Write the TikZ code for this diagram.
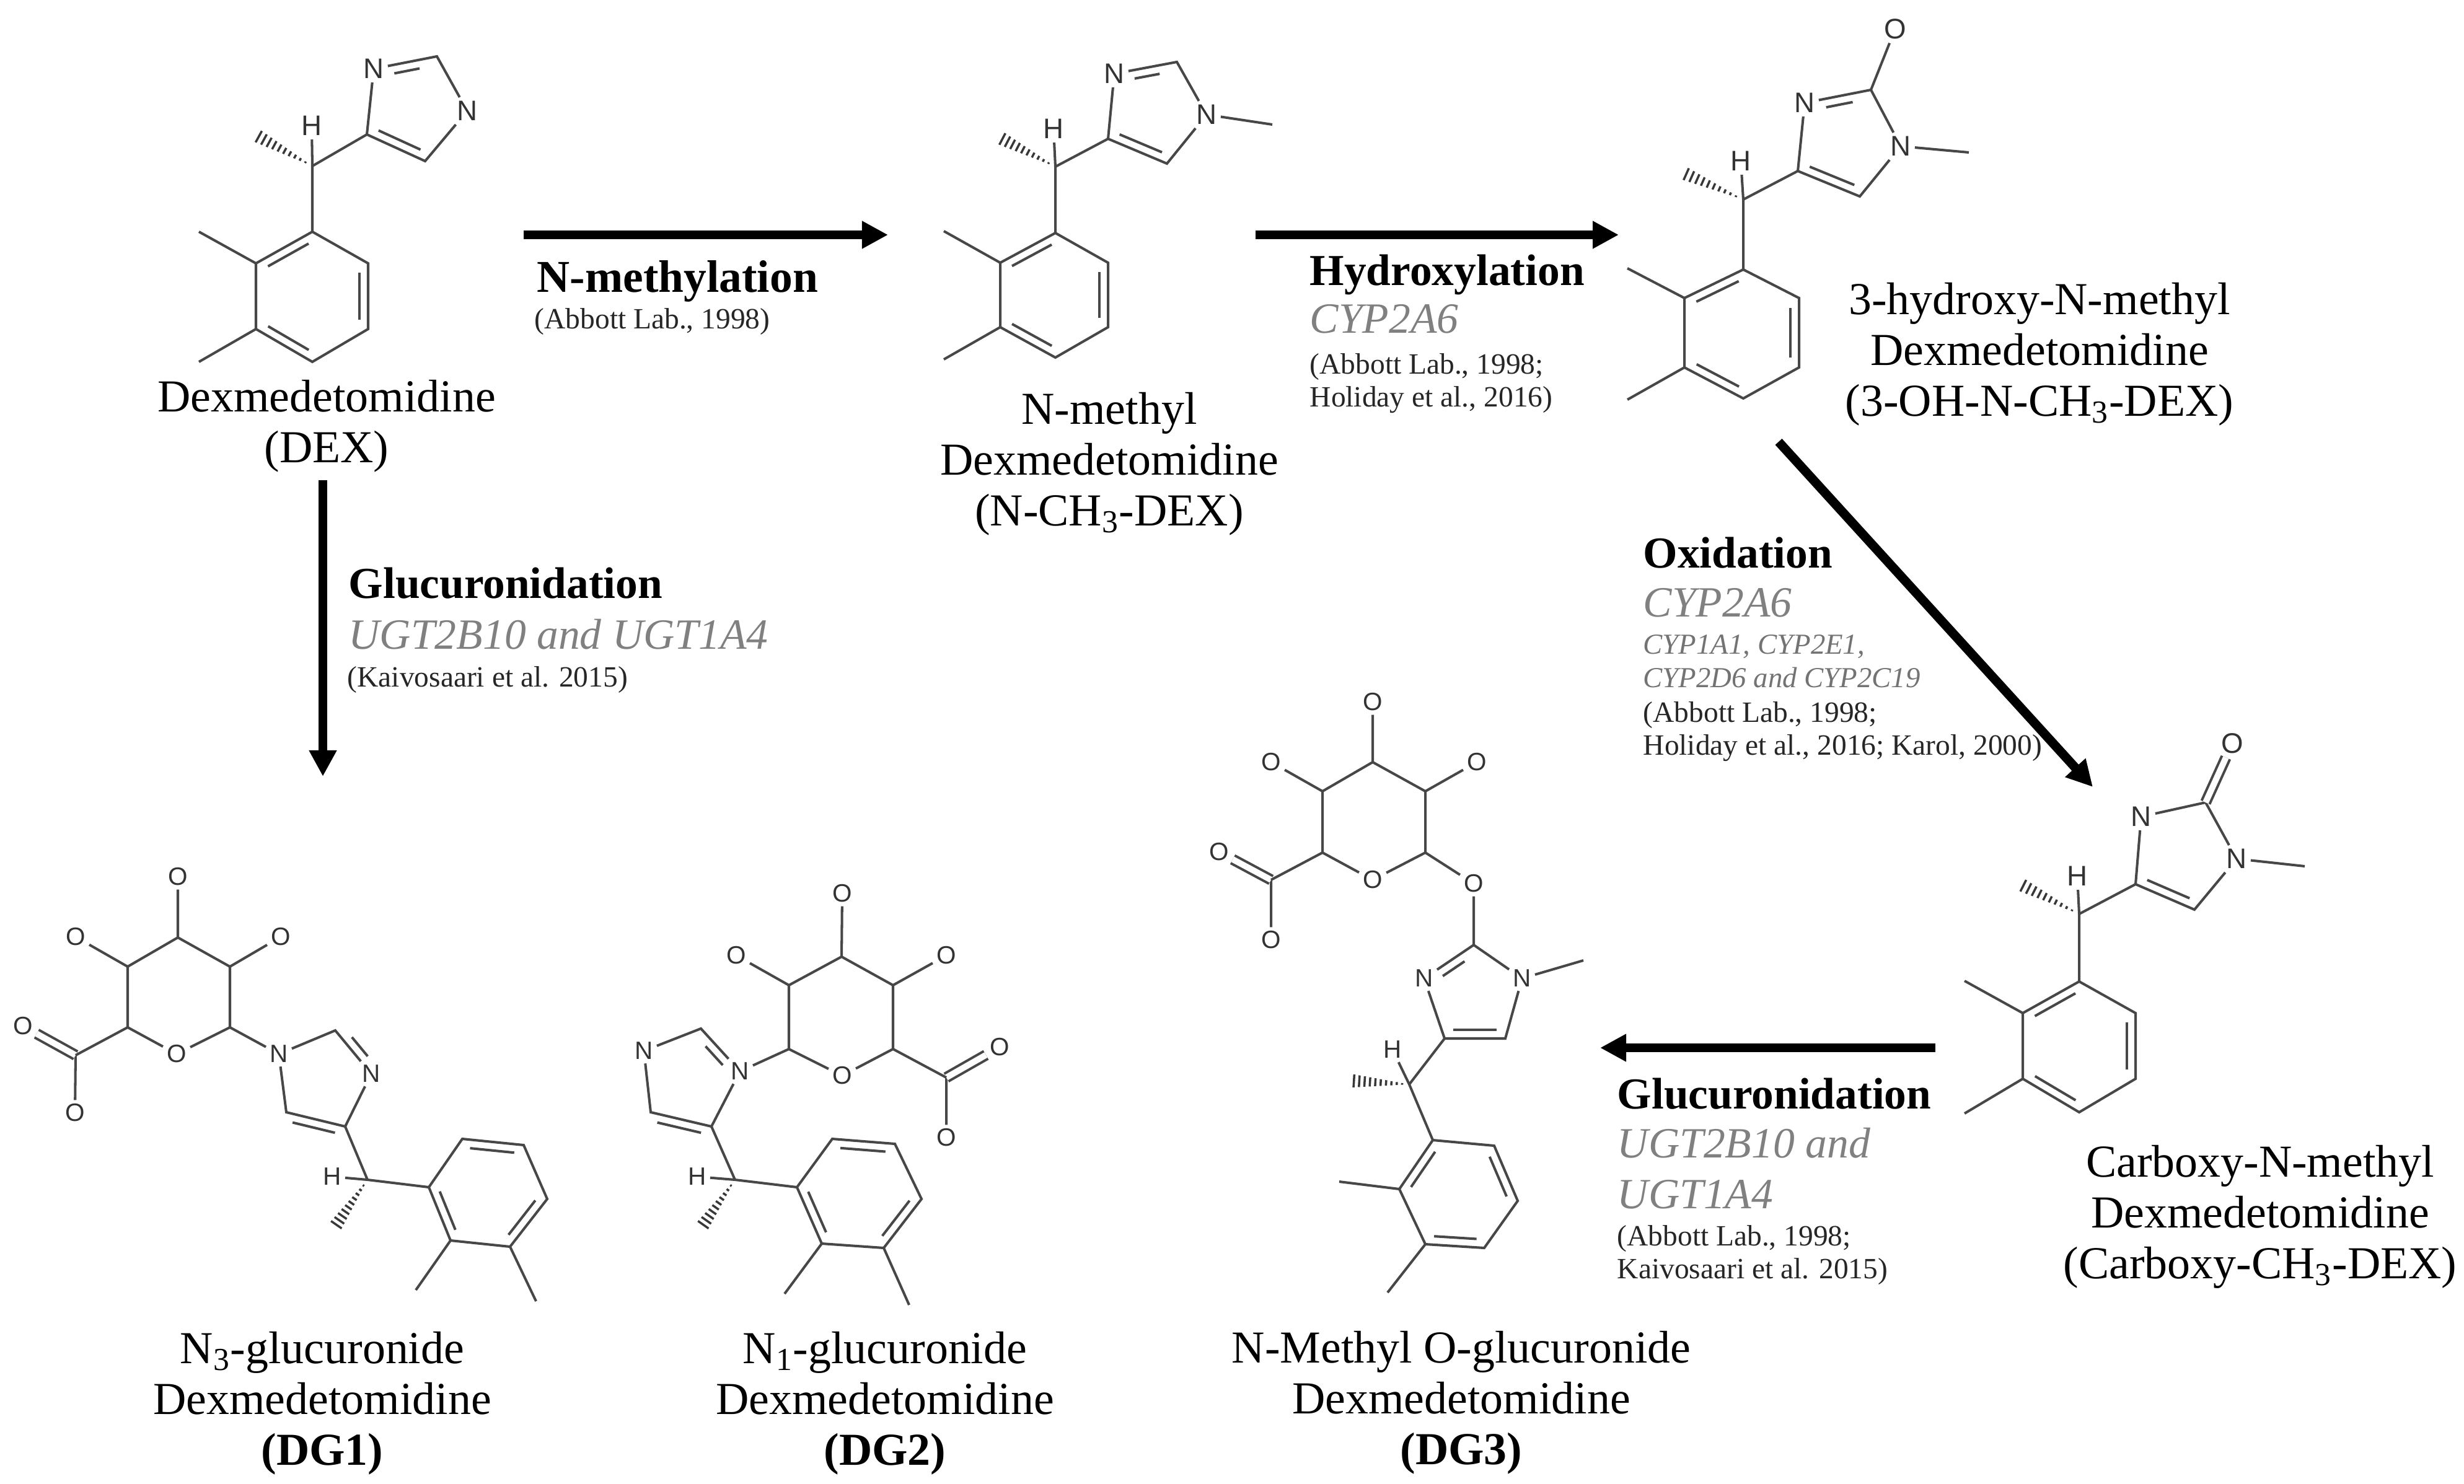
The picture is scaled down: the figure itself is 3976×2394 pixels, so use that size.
\documentclass[tikz,border=0pt]{standalone}
\usepackage{fontspec}
\setmainfont{Liberation Serif}
\newfontfamily\atomfont{Liberation Sans}
\usetikzlibrary{calc, arrows.meta}
\tikzset{
	bond/.style={line width=1.15pt, black!72},
	dblbond/.style={bond, double, double distance=2.8pt},
	atom/.style={font=\atomfont\fontsize{13}{15}\selectfont, text=black!80, inner sep=1.6pt},
	lowatom/.style={font=\atomfont\fontsize{11.5}{13}\selectfont, text=black!80, inner sep=1.6pt},
	reaction/.style={line width=4.2pt, -{Triangle[length=.42cm,width=.42cm]}},
	molname/.style={font=\fontsize{21}{23.2}\selectfont, align=center, anchor=north, inner sep=0pt},
	headlab/.style={font=\bfseries\fontsize{20.3}{23}\selectfont, anchor=base west, inner sep=0pt},
	enzlab/.style={font=\itshape\fontsize{19.8}{23}\selectfont, text=black!50, anchor=base west, inner sep=0pt},
	enzsmall/.style={font=\itshape\fontsize{13.3}{15.2}\selectfont, text=black!55, align=left, anchor=north west, inner sep=0pt},
	reflab/.style={font=\fontsize{13.5}{14.9}\selectfont, text=black!85, align=left, anchor=north west, inner sep=0pt},
}
% named points of a molecule
\newcommand{\points}[2]{\foreach \n/\px/\py in {#2} \coordinate (#1\n) at (\px,\py);}
% inner line of a double bond, on the left of a->b
\newcommand{\inbond}[3][.14]{\draw[bond] ($(#2)!#1!(#3)!3.9pt!90:(#3)$) -- ($(#3)!#1!(#2)!3.9pt!-90:(#2)$);}
% hashed bond, narrow at a
\newcommand{\hashbond}[2]{\foreach \t in {.12,.21,...,1.0} \draw[line width=1pt, black!78] ($(#1)!\t!(#2)!\t*3.2pt!90:(#2)$) -- ($(#1)!\t!(#2)!\t*3.2pt!-90:(#2)$);}
% benzene ring a..f, anticlockwise
\newcommand{\benzring}[1]{\draw[bond] (#1a) -- (#1b) -- (#1c) -- (#1d) -- (#1e) -- (#1f) -- cycle;
	\inbond{#1a}{#1b} \inbond{#1c}{#1d} \inbond{#1e}{#1f}}
% upright molecules of the top row
\newcommand{\core}[1]{\benzring{#1}
	\draw[bond] (#1a) -- (#1ch) -- (#1r) -- (#1s) -- (#1Na) -- (#1t) -- (#1Nb) -- (#1r);
	\draw[bond] (#1ch) -- (#1H) (#1b) -- (#1mb) (#1c) -- (#1mc);
	\hashbond{#1ch}{#1me} \inbond{#1r}{#1s}}
% glucuronic acid ring with its oxygens
\newcommand{\sugar}[1]{\draw[bond] (#1tp) -- (#1ur) -- (#1lr) -- (#1Ox) -- (#1ll) -- (#1ul) -- (#1tp);
	\draw[bond] (#1tp) -- (#1Oa) (#1ul) -- (#1Ob) (#1ur) -- (#1Oc) (#1cx) -- (#1Od);
	\draw[dblbond] (#1cx) -- (#1Oe);}
\begin{document}
\begin{tikzpicture}[x=.01cm, y=-.01cm]
\useasboundingbox (0,0) rectangle (3976,2394);

% Dexmedetomidine
\points{dex}{a/504/374, b/413/425, c/413/531, d/504/584, e/594/531, f/594/425, mb/321/374, mc/321/584, ch/504/268, me/411/217, r/592/217, s/686/260, t/705/91}
\node[atom] (dexH) at (503,203) {H};
\node[atom] (dexNa) at (754,179) {N};
\node[atom] (dexNb) at (603,111) {N};
\core{dex}
\inbond[.3]{dext}{dexNb}
\node[molname] (dexname) at (527,613) {Dexmedetomidine\\(DEX)};

% N-methyl
\points{nme}{a/1703/376, b/1614/424, c/1614/528, d/1703/577, e/1788/528, f/1788/424, mb/1523/373, mc/1523/580, ch/1703/269, me/1611/221, r/1788/224, s/1883/264, t/1899/100, cm/2053/201}
\node[atom] (nmeH) at (1700,208) {H};
\node[atom] (nmeNa) at (1947,185) {N};
\node[atom] (nmeNb) at (1798,119) {N};
\core{nme}
\inbond[.3]{nmet}{nmeNb}
\draw[bond] (nmeNa) -- (nmecm);
\node[molname] (nmename) at (1790,633) {N-methyl\\Dexmedetomidine\\(N-CH\textsubscript{3}-DEX)};

% 3-hydroxy-N-methyl
\points{oh}{a/2813/435, b/2718/481, c/2718/593, d/2813/643, e/2903/593, f/2903/481, mb/2626/433, mc/2626/645, ch/2813/322, me/2714/278, r/2901/276, s/3001/317, t/3019/145, cm/3177/246}
\node[atom] (ohH) at (2809,260) {H};
\node[atom] (ohNa) at (3067,236) {N};
\node[atom] (ohNb) at (2912,166) {N};
\node[atom] (ohO) at (3058,47) {O};
\core{oh}
\inbond[.3]{oht}{ohNb}
\draw[bond] (ohNa) -- (ohcm) (oht) -- (ohO);
\node[molname] (ohname) at (3291,456) {3-hydroxy-N-methyl\\Dexmedetomidine\\(3-OH-N-CH\textsubscript{3}-DEX)};

% Carboxy-N-methyl
\points{cbx}{a/3355/1584, b/3264/1635, c/3264/1741, d/3355/1795, e/3446/1741, f/3446/1635, mb/3170/1583, mc/3170/1797, ch/3355/1475, me/3258/1426, r/3446/1427, s/3541/1468, t/3559/1295, cm/3719/1398}
\node[atom] (cbxH) at (3352,1414) {H};
\node[atom] (cbxNa) at (3609,1386) {N};
\node[atom] (cbxNb) at (3455,1318) {N};
\node[atom] (cbxO) at (3602,1200) {O};
\core{cbx}
\draw[bond] (cbxNa) -- (cbxcm);
\draw[dblbond] (cbxt) -- (cbxO);
\node[molname] (cbxname) at (3647,1848) {Carboxy-N-methyl\\Dexmedetomidine\\(Carboxy-CH\textsubscript{3}-DEX)};

% DG1
\points{dga}{tp/287/1513, ur/371/1560, lr/371/1658, ll/206/1658, ul/206/1560, cx/122/1703, t/541/1663, r/557/1818, s/462/1795, ch/593/1904, me/539/1982, a/692/1916, b/727/2002, c/823/2012, d/883/1935, e/845/1848, f/746/1838, mb/671/2082, mc/865/2100}
\foreach \n/\px/\py/\lab in {Ox/285/1701/O, Oa/287/1415/O, Ob/122/1512/O, Oc/453/1512/O, Od/121/1796/O, Oe/37/1656/O, Na/450/1701/N, Nb/599/1733/N, H/536/1899/H}
	\node[lowatom] (dga\n) at (\px,\py) {\lab};
\sugar{dga}
\benzring{dga}
\draw[bond] (dgall) -- (dgacx) (dgalr) -- (dgaNa) -- (dgat) -- (dgaNb) -- (dgar) -- (dgas) -- (dgaNa);
\draw[bond] (dgar) -- (dgach) -- (dgaa) (dgach) -- (dgaH) (dgab) -- (dgamb) (dgac) -- (dgamc);
\hashbond{dgach}{dgame}
\inbond[.28]{dgat}{dgaNb} \inbond{dgar}{dgas}
\node[molname] (dganame) at (520,2149) {N\textsubscript{3}-glucuronide\\Dexmedetomidine\\\textbf{(DG1)}};

% DG2
\points{dgb}{tp/1358/1544, ur/1441/1590, lr/1441/1693, ll/1273/1693, ul/1273/1590, cx/1527/1739, t/1131/1660, r/1148/1818, s/1050/1795, ch/1186/1904, me/1131/1982, a/1286/1916, b/1326/2007, c/1426/2014, d/1487/1935, e/1444/1846, f/1343/1838, mb/1266/2088, mc/1467/2106}
\foreach \n/\px/\py/\lab in {Ox/1359/1736/O, Oa/1359/1442/O, Ob/1188/1542/O, Oc/1527/1542/O, Od/1527/1836/O, Oe/1613/1690/O, Na/1194/1729/N, Nb/1039/1696/N, H/1125/1899/H}
	\node[lowatom] (dgb\n) at (\px,\py) {\lab};
\sugar{dgb}
\benzring{dgb}
\draw[bond] (dgblr) -- (dgbcx) (dgbll) -- (dgbNa) -- (dgbt) -- (dgbNb) -- (dgbs) -- (dgbr) -- (dgbNa);
\draw[bond] (dgbr) -- (dgbch) -- (dgba) (dgbch) -- (dgbH) (dgbb) -- (dgbmb) (dgbc) -- (dgbmc);
\hashbond{dgbch}{dgbme}
\inbond[.28]{dgbNa}{dgbt} \inbond{dgbr}{dgbs}
\node[molname] (dgbname) at (1428,2149) {N\textsubscript{1}-glucuronide\\Dexmedetomidine\\\textbf{(DG2)}};

% DG3
\points{dgc}{tp/2215/1230, ur/2300/1277, lr/2300/1376, ll/2134/1376, ul/2134/1277, cx/2051/1420, t/2378/1525, r/2331/1676, s/2429/1676, cm/2555/1550, ch/2274/1750, me/2178/1744, a/2312/1840, b/2258/1919, c/2300/2008, d/2395/2014, e/2449/1938, f/2411/1849, mb/2161/1907, mc/2239/2086}
\foreach \n/\px/\py/\lab in {Ox/2215/1420/O, Oa/2215/1133/O, Ob/2051/1230/O, Oc/2383/1230/O, Od/2051/1517/O, Oe/1967/1375/O, Ol/2378/1426/O, Nb/2298/1579/N, Na/2456/1579/N, H/2247/1694/H}
	\node[lowatom] (dgc\n) at (\px,\py) {\lab};
\sugar{dgc}
\benzring{dgc}
\draw[bond] (dgcll) -- (dgccx) (dgclr) -- (dgcOl) -- (dgct) -- (dgcNa) -- (dgcs) -- (dgcr) -- (dgcNb) -- (dgct) (dgcNa) -- (dgccm);
\draw[bond] (dgcr) -- (dgcch) -- (dgca) (dgcch) -- (dgcH) (dgcb) -- (dgcmb) (dgcc) -- (dgcmc);
\hashbond{dgcch}{dgcme}
\inbond[.28]{dgct}{dgcNb} \inbond{dgcr}{dgcs}
\node[molname] (dgcname) at (2358,2148) {N-Methyl O-glucuronide\\Dexmedetomidine\\\textbf{(DG3)}};

% reaction arrows
\points{arr}{as/845/379, ae/1433/379, bs/2026/379, be/2612/379, cs/2870/713, ce/3377/1270, ds/521/775, de/521/1253, es/3123/1691, ee/2582/1691}
\draw[reaction] (arras) -- (arrae);
\draw[reaction] (arrbs) -- (arrbe);
\draw[reaction] (arrcs) -- (arrce);
\draw[reaction] (arrds) -- (arrde);
\draw[reaction] (arres) -- (arree);

% labels of the reactions
\node[headlab, font=\bfseries\fontsize{20.9}{23}\selectfont] (mlab) at (866,471) {N-methylation};
\node[reflab] (mref) at (862,497) {(Abbott Lab., 1998)};

\node[headlab] (hlab) at (2113,460) {Hydroxylation};
\node[enzlab] (henz) at (2113,537) {CYP2A6};
\node[reflab] (href) at (2113,570) {(Abbott Lab., 1998;\\Holiday et al., 2016)};

\node[headlab] (glab) at (562,965) {Glucuronidation};
\node[enzlab] (genz) at (562,1047) {UGT2B10 and UGT1A4};
\node[reflab] (gref) at (560,1075) {(Kaivosaari et al. 2015)};

\node[headlab] (olab) at (2651,916) {Oxidation};
\node[enzlab] (oenz) at (2651,995) {CYP2A6};
\node[enzsmall] (osub) at (2651,1024) {CYP1A1, CYP2E1,\\CYP2D6 and CYP2C19};
\node[reflab] (oref) at (2651,1132) {(Abbott Lab., 1998;\\Holiday et al., 2016; Karol, 2000)};

\node[headlab] (ulab) at (2609,1789) {Glucuronidation};
\node[enzlab] (uenza) at (2609,1868) {UGT2B10 and};
\node[enzlab] (uenzb) at (2609,1950) {UGT1A4};
\node[reflab] (uref) at (2609,1977) {(Abbott Lab., 1998;\\Kaivosaari et al. 2015)};
\end{tikzpicture}
\end{document}
